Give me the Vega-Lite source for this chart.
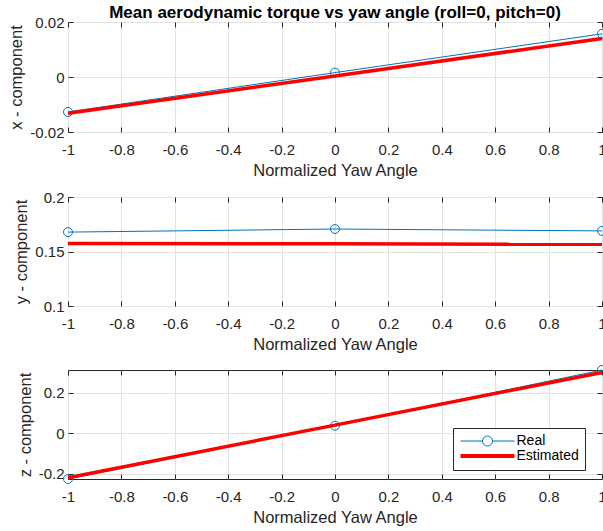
{
  "$schema": "https://vega.github.io/schema/vega-lite/v6.json",
  "background": "white",
  "padding": {"left": 8, "top": 3, "right": 0, "bottom": 0},
  "spacing": 10,
  "data": {"values": [
    {"comp": "x", "series": "Real", "yaw": -1, "value": -0.0127},
    {"comp": "x", "series": "Real", "yaw": 0, "value": 0.0016},
    {"comp": "x", "series": "Real", "yaw": 1, "value": 0.0157},
    {"comp": "x", "series": "Estimated", "yaw": -1, "value": -0.0132},
    {"comp": "x", "series": "Estimated", "yaw": 0, "value": 0.0004},
    {"comp": "x", "series": "Estimated", "yaw": 1, "value": 0.0140},
    {"comp": "y", "series": "Real", "yaw": -1, "value": 0.1678},
    {"comp": "y", "series": "Real", "yaw": 0, "value": 0.1706},
    {"comp": "y", "series": "Real", "yaw": 1, "value": 0.1689},
    {"comp": "y", "series": "Estimated", "yaw": -1, "value": 0.1574},
    {"comp": "y", "series": "Estimated", "yaw": 0, "value": 0.1570},
    {"comp": "y", "series": "Estimated", "yaw": 1, "value": 0.1566},
    {"comp": "z", "series": "Real", "yaw": -1, "value": -0.225},
    {"comp": "z", "series": "Real", "yaw": 0, "value": 0.038},
    {"comp": "z", "series": "Real", "yaw": 1, "value": 0.313},
    {"comp": "z", "series": "Estimated", "yaw": -1, "value": -0.219},
    {"comp": "z", "series": "Estimated", "yaw": 0, "value": 0.041},
    {"comp": "z", "series": "Estimated", "yaw": 1, "value": 0.301}
  ]},
  "resolve": {"scale": {"color": "independent"}},
  "vconcat": [
    {
      "title": {"text": "Mean aerodynamic torque vs yaw angle (roll=0, pitch=0)", "font": "Liberation Sans", "fontSize": 17, "fontWeight": "bold", "color": "#000000", "anchor": "middle", "offset": -7},
      "width": 534, "height": 110,
      "transform": [{"filter": "datum.comp === 'x'"}],
      "layer": [
        {"transform": [{"filter": "datum.series === 'Real'"}],
         "mark": {"type": "line", "color": "#0072BD", "strokeWidth": 1, "clip": false},
         "encoding": {
           "x": {"field": "yaw", "type": "quantitative", "scale": {"domain": [-1, 1], "nice": false}, "axis": {"values": [-1, -0.8, -0.6, -0.4, -0.2, 0, 0.2, 0.4, 0.6, 0.8, 1], "labelExpr": "'' + round(datum.value*10)/10", "title": "Normalized Yaw Angle"}},
           "y": {"field": "value", "type": "quantitative", "scale": {"domain": [-0.02, 0.02], "nice": false, "zero": false}, "axis": {"values": [-0.02, 0, 0.02], "labelExpr": "'' + datum.value", "title": "x - component"}}
         }},
        {"transform": [{"filter": "datum.series === 'Real'"}],
         "mark": {"type": "point", "shape": "circle", "filled": false, "color": "#0072BD", "size": 80, "strokeWidth": 1, "opacity": 1, "clip": false},
         "encoding": {
           "x": {"field": "yaw", "type": "quantitative", "axis": null},
           "y": {"field": "value", "type": "quantitative", "axis": null}
         }},
        {"transform": [{"filter": "datum.series === 'Estimated'"}],
         "mark": {"type": "line", "color": "#FF0000", "strokeWidth": 3.5, "clip": false},
         "encoding": {
           "x": {"field": "yaw", "type": "quantitative", "axis": {"orient": "top", "values": [-1, -0.8, -0.6, -0.4, -0.2, 0, 0.2, 0.4, 0.6, 0.8, 1], "labels": false, "title": null, "grid": false}},
           "y": {"field": "value", "type": "quantitative", "axis": {"orient": "right", "values": [-0.02, 0, 0.02], "labels": false, "title": null, "grid": false}}
         }}
      ],
      "resolve": {"axis": {"x": "independent", "y": "independent"}}
    },
    {
      "width": 534, "height": 109,
      "transform": [{"filter": "datum.comp === 'y'"}],
      "layer": [
        {"transform": [{"filter": "datum.series === 'Real'"}],
         "mark": {"type": "line", "color": "#0072BD", "strokeWidth": 1, "clip": false},
         "encoding": {
           "x": {"field": "yaw", "type": "quantitative", "scale": {"domain": [-1, 1], "nice": false}, "axis": {"values": [-1, -0.8, -0.6, -0.4, -0.2, 0, 0.2, 0.4, 0.6, 0.8, 1], "labelExpr": "'' + round(datum.value*10)/10", "title": "Normalized Yaw Angle"}},
           "y": {"field": "value", "type": "quantitative", "scale": {"domain": [0.1, 0.2], "nice": false, "zero": false}, "axis": {"values": [0.1, 0.15, 0.2], "labelExpr": "'' + datum.value", "title": "y - component"}}
         }},
        {"transform": [{"filter": "datum.series === 'Real'"}],
         "mark": {"type": "point", "shape": "circle", "filled": false, "color": "#0072BD", "size": 80, "strokeWidth": 1, "opacity": 1, "clip": false},
         "encoding": {
           "x": {"field": "yaw", "type": "quantitative", "axis": null},
           "y": {"field": "value", "type": "quantitative", "axis": null}
         }},
        {"transform": [{"filter": "datum.series === 'Estimated'"}],
         "mark": {"type": "line", "color": "#FF0000", "strokeWidth": 3.5, "clip": false},
         "encoding": {
           "x": {"field": "yaw", "type": "quantitative", "axis": {"orient": "top", "values": [-1, -0.8, -0.6, -0.4, -0.2, 0, 0.2, 0.4, 0.6, 0.8, 1], "labels": false, "title": null, "grid": false}},
           "y": {"field": "value", "type": "quantitative", "axis": {"orient": "right", "values": [0.1, 0.15, 0.2], "labels": false, "title": null, "grid": false}}
         }}
      ],
      "resolve": {"axis": {"x": "independent", "y": "independent"}}
    },
    {
      "width": 534, "height": 109,
      "transform": [{"filter": "datum.comp === 'z'"}],
      "layer": [
        {"transform": [{"filter": "datum.series === 'Real'"}],
         "mark": {"type": "line", "strokeWidth": 1, "clip": false},
         "encoding": {
           "x": {"field": "yaw", "type": "quantitative", "scale": {"domain": [-1, 1], "nice": false}, "axis": {"values": [-1, -0.8, -0.6, -0.4, -0.2, 0, 0.2, 0.4, 0.6, 0.8, 1], "labelExpr": "'' + round(datum.value*10)/10", "title": "Normalized Yaw Angle"}},
           "y": {"field": "value", "type": "quantitative", "scale": {"domain": [-0.225, 0.313], "nice": false, "zero": false}, "axis": {"values": [-0.2, 0, 0.2], "labelExpr": "'' + datum.value", "title": "z - component"}},
           "color": {"field": "series", "type": "nominal", "scale": {"domain": ["Real", "Estimated"], "range": ["#0072BD", "#FF0000"]},
             "legend": {"orient": "none", "legendX": 385, "legendY": 58, "title": null, "symbolType": "M-5.4,0L5.4,0", "symbolSize": 100, "symbolStrokeWidth": 1, "symbolOffset": 21.5, "labelFont": "Liberation Sans", "labelFontSize": 14, "labelColor": "#000000", "labelOffset": 22, "rowPadding": 0, "padding": 6, "strokeColor": "#262626", "fillColor": "#FFFFFF",
               "encode": {"symbols": {"update": {
                 "shape": {"signal": "datum.value === 'Real' ? 'M-5.4,0L-1,0M1,0L5.4,0M-1,0A1,1 0 1,1 1,0A1,1 0 1,1 -1,0' : 'M-5.4,0L5.4,0'"},
                 "strokeWidth": {"signal": "datum.value === 'Real' ? 1 : 4"},
                 "fill": {"value": "transparent"}
               }}}}}
         }},
        {"transform": [{"filter": "datum.series === 'Real'"}],
         "mark": {"type": "point", "shape": "circle", "filled": false, "color": "#0072BD", "size": 80, "strokeWidth": 1, "opacity": 1, "clip": false},
         "encoding": {
           "x": {"field": "yaw", "type": "quantitative", "axis": null},
           "y": {"field": "value", "type": "quantitative", "axis": null}
         }},
        {"transform": [{"filter": "datum.series === 'Estimated'"}],
         "mark": {"type": "line", "strokeWidth": 3.5, "clip": false},
         "encoding": {
           "x": {"field": "yaw", "type": "quantitative", "axis": {"orient": "top", "values": [-1, -0.8, -0.6, -0.4, -0.2, 0, 0.2, 0.4, 0.6, 0.8, 1], "labels": false, "title": null, "grid": false}},
           "y": {"field": "value", "type": "quantitative", "axis": {"orient": "right", "values": [-0.2, 0, 0.2], "labels": false, "title": null, "grid": false}},
           "color": {"field": "series", "type": "nominal", "scale": {"domain": ["Real", "Estimated"], "range": ["#0072BD", "#FF0000"]}}
         }}
      ],
      "resolve": {"axis": {"x": "independent", "y": "independent"}}
    }
  ],
  "config": {
    "view": {"stroke": "#262626", "strokeWidth": 1},
    "axis": {
      "domain": false,
      "labelFont": "Liberation Sans", "labelFontSize": 15, "labelColor": "#262626",
      "titleFont": "Liberation Sans", "titleFontSize": 16.5, "titleFontWeight": "normal", "titleColor": "#262626",
      "tickColor": "#262626", "tickSize": -5, "tickWidth": 1,
      "gridColor": "#E3E3E3", "gridWidth": 1, "grid": true,
      "titlePadding": 5
    },
    "axisX": {"labelFlush": false, "labelPadding": 15},
    "axisY": {"labelFlush": false, "labelPadding": 9}
  }
}
